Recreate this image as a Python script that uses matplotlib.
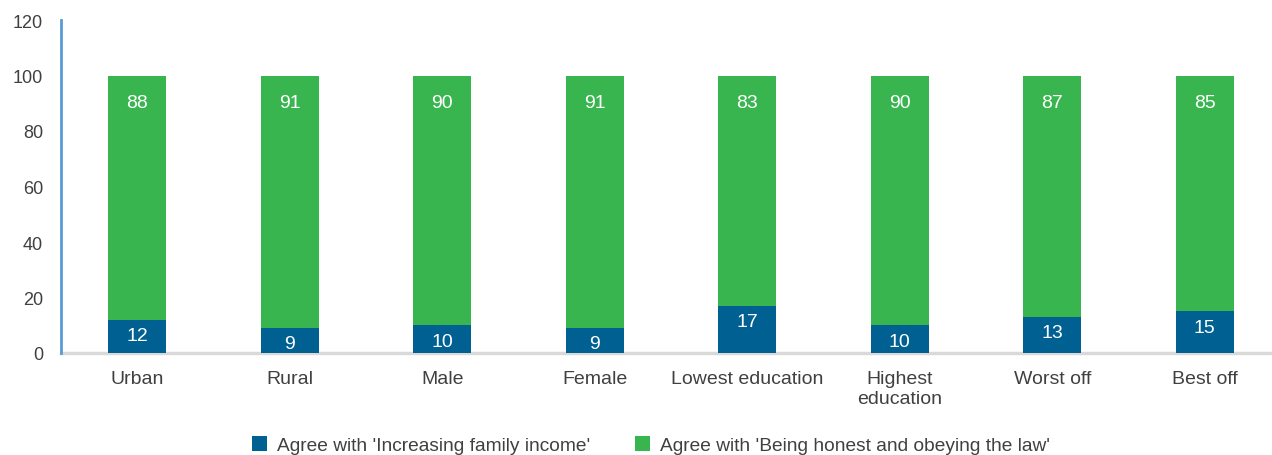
import matplotlib
matplotlib.use("Agg")
import matplotlib.pyplot as plt
from matplotlib.patches import Patch

plt.rcParams['font.family'] = ['Liberation Sans', 'DejaVu Sans']

categories = ["Urban", "Rural", "Male", "Female", "Lowest education",
              "Highest\neducation", "Worst off", "Best off"]
income = [12, 9, 10, 9, 17, 10, 13, 15]
honest = [88, 91, 90, 91, 83, 90, 87, 85]
series_names = ["Agree with 'Increasing family income'",
                "Agree with 'Being honest and obeying the law'"]
yticks = [0, 20, 40, 60, 80, 100, 120]

BLUE = "#006092"
GREEN = "#39b54f"
TEXT = "#404040"

W, H = 1272, 456
fig = plt.figure(figsize=(W / 100, H / 100), dpi=100)
ax = fig.add_axes([61 / W, (H - 354) / H, (1281 - 61) / W, 333 / H])

x = list(range(len(categories)))
width = 0.378
ax.bar(x, income, width, color=BLUE, zorder=2)
ax.bar(x, honest, width, bottom=income, color=GREEN, zorder=2)

# value labels sit a fixed distance below the top of each segment
for xi, a, b in zip(x, income, honest):
    ax.annotate(str(a), xy=(xi, a), xytext=(0, -11.5), textcoords="offset points",
                ha="center", va="center", color="white", fontsize=14, zorder=3)
    ax.annotate(str(b), xy=(xi, a + b), xytext=(0, -19.5), textcoords="offset points",
                ha="center", va="center", color="white", fontsize=14, zorder=3)

ax.set_xlim(-0.5, len(categories) - 0.5)
ax.set_ylim(0, 120)
ax.set_yticks(yticks)
ax.set_xticks(x)
ax.set_xticklabels(categories, linespacing=1.25)
ax.tick_params(axis="both", length=0, labelcolor=TEXT)
ax.tick_params(axis="y", pad=13, labelsize=13)
ax.tick_params(axis="x", pad=12, labelsize=14)

for s in ["top", "right"]:
    ax.spines[s].set_visible(False)
ax.spines["left"].set_color("#5b9bd5")
ax.spines["left"].set_linewidth(2)
ax.spines["bottom"].set_color("#d9d9d9")
ax.spines["bottom"].set_linewidth(2.5)
ax.spines["bottom"].set_zorder(1)

handles = [Patch(facecolor=BLUE), Patch(facecolor=GREEN)]
fig.legend(handles, series_names, loc="center", bbox_to_anchor=(651 / W, 1 - 446 / H),
           ncol=2, frameon=False, fontsize=13.8, handlelength=0.8, handleheight=0.8,
           handletextpad=0.5, columnspacing=2.35, labelcolor=TEXT)

fig.savefig("out.png", dpi=100)
